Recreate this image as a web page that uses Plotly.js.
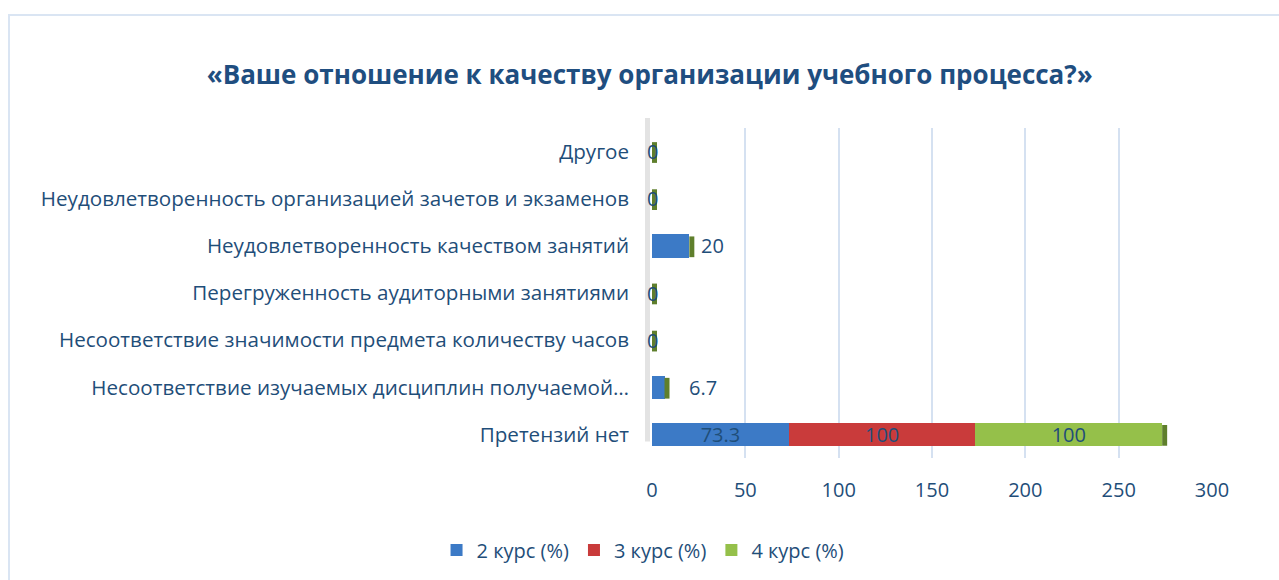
<!DOCTYPE html>
<html>
<head>
<meta charset="utf-8">
<script src="https://cdn.plot.ly/plotly-3.0.1.min.js"></script>
<style>
html,body{margin:0;padding:0;background:#fff;overflow:hidden;}
#wrap{position:relative;width:1279px;height:580px;}
#chart{width:1279px;height:580px;}
#frame{position:absolute;left:8px;top:14px;width:1300px;height:620px;border:2px solid #DAE5F3;pointer-events:none;}
</style>
</head>
<body>
<div id="wrap"><div id="chart"></div><div id="frame"></div></div>
<script>
const categories = [
  "Претензий нет",
  "Несоответствие изучаемых дисциплин получаемой…",
  "Несоответствие значимости предмета количеству часов",
  "Перегруженность аудиторными занятиями",
  "Неудовлетворенность качеством занятий",
  "Неудовлетворенность организацией зачетов и экзаменов",
  "Другое"
];
const seriesNames = ["2 курс (%)", "3 курс (%)", "4 курс (%)"];
const course2 = [73.3, 6.7, 0, 0, 20, 0, 0];
const course3 = [100, 0, 0, 0, 0, 0, 0];
const course4 = [100, 0, 0, 0, 0, 0, 0];
const xTicks = [0, 50, 100, 150, 200, 250, 300];
const chartTitle = "«Ваше отношение к качеству организации учебного процесса?»";

const colors = ["#3C7AC6", "#C93B3B", "#95C04A"];
const txtColor = "#1F4E79";
const FONT = "Open Sans, Noto Sans, sans-serif";

const all = [course2, course3, course4];
const traces = all.map((vals, i) => ({
  type: "bar",
  orientation: "h",
  name: seriesNames[i],
  x: vals,
  y: categories,
  marker: {color: colors[i], line: {width: 0}},
  text: vals.map(v => v >= 50 ? String(v) : ""),
  textposition: "inside",
  insidetextanchor: "middle",
  constraintext: "none",
  textfont: {family: FONT, size: 20, color: txtColor},
  hoverinfo: "x+y+name"
}));

// labels for small values of the first series, placed at data coordinates
const annotations = [];
course2.forEach((v, i) => {
  if (v >= 50) return;
  annotations.push({
    x: v, y: categories[i], xref: "x", yref: "y",
    text: String(v),
    showarrow: false,
    xanchor: v === 0 ? "right" : "left",
    xshift: v === 0 ? 8 : (v < 10 ? 22 : 10),
    font: {family: FONT, size: 20, color: txtColor}
  });
});

// 3D-looking end caps at the end of each stack (derived from data totals)
const shapes = categories.map((c, i) => {
  const total = course2[i] + course3[i] + course4[i];
  return {
    type: "rect", xref: "x", yref: "y",
    xsizemode: "pixel", xanchor: total, x0: 0, x1: 5,
    y0: i - 0.24, y1: i + 0.2,
    fillcolor: "#5F7F2C",
    line: {width: 0}, layer: "above"
  };
});
// faint left wall shadow along the category axis
shapes.push({
  type: "line", xref: "paper", yref: "paper",
  x0: -0.008, x1: -0.008, y0: 0.05, y1: 1.03,
  line: {color: "#E3E3E3", width: 5}, layer: "below"
});

const layout = {
  width: 1279, height: 580,
  paper_bgcolor: "#ffffff", plot_bgcolor: "#ffffff",
  margin: {l: 652, r: 67, t: 128, b: 121},
  barmode: "stack",
  bargap: 0.5,
  title: {
    text: "<b>" + chartTitle + "</b>",
    x: 0.508, xanchor: "center", y: 0.871, yanchor: "middle", yref: "container",
    font: {family: FONT, size: 26, color: "#1F4E80"}
  },
  xaxis: {
    range: [0, 300], tickvals: xTicks, ticktext: xTicks.map(String),
    showgrid: true, gridcolor: "#D5E1F1", gridwidth: 2,
    zeroline: false, showline: false, ticks: "",
    ticklabelstandoff: 18,
    tickfont: {family: FONT, size: 20, color: txtColor}
  },
  yaxis: {
    type: "category", categoryorder: "array", categoryarray: categories,
    range: [-0.5, 6.5],
    showgrid: false, zeroline: false, showline: false, ticks: "",
    ticklabelstandoff: 22,
    tickfont: {family: FONT, size: 20.6, color: txtColor}
  },
  showlegend: true,
  legend: {
    orientation: "h", x: -0.016, xanchor: "center", y: -0.275, yanchor: "middle",
    font: {family: FONT, size: 20, color: txtColor},
    traceorder: "normal", itemwidth: 30
  },
  shapes: shapes,
  annotations: annotations
};

Plotly.newPlot("chart", traces, layout, {displayModeBar: false, responsive: false});
</script>
</body>
</html>
